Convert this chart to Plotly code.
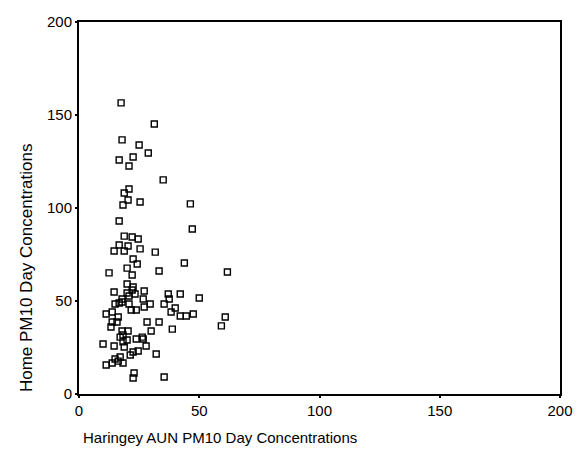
import plotly.graph_objects as go

haringey = [17.5, 31.3, 17.9, 25.0, 28.8, 16.7, 22.5, 20.8, 35.0, 20.8,
            18.8, 20.4, 18.3, 25.4, 46.3, 16.7, 47.1, 18.8, 22.1, 24.6,
            16.7, 20.4, 14.6, 18.8, 25.4, 31.7, 22.5, 24.2, 43.8, 12.5,
            20.0, 22.1, 33.3, 61.7, 20.0, 22.5, 22.1, 23.3, 14.6, 20.0,
            20.8, 17.9, 27.1, 37.1, 37.5, 42.1, 50.0, 26.7, 15.0, 16.7,
            17.9, 20.8, 21.7, 23.8, 29.6, 27.1, 35.4, 40.0, 38.3, 42.1,
            44.6, 47.5, 11.3, 13.8, 16.3, 13.8, 13.3, 15.8, 28.3, 33.3,
            30.0, 38.8, 17.9, 20.4, 18.3, 17.1, 20.0, 18.3, 23.8, 26.3,
            26.7, 10.0, 14.6, 27.9, 18.8, 22.5, 24.6, 32.1, 21.3, 11.3,
            13.8, 15.0, 17.1, 16.3, 18.3, 22.9, 22.5, 35.4, 59.2, 60.8]
home = [156.5, 145.2, 136.6, 133.9, 129.6, 125.8, 127.4, 122.6, 115.1, 110.2,
        108.1, 104.3, 101.6, 103.2, 102.2, 93.0, 88.7, 84.9, 84.4, 83.3,
        80.1, 79.6, 76.9, 76.9, 78.0, 76.3, 72.6, 69.9, 70.4, 65.1,
        67.7, 64.0, 66.1, 65.6, 59.1, 57.5, 55.9, 53.8, 54.8, 54.3,
        52.7, 51.1, 55.4, 53.8, 51.1, 53.8, 51.6, 51.1, 48.4, 48.9,
        49.5, 48.4, 45.2, 45.2, 48.4, 46.8, 48.4, 46.2, 44.1, 41.9,
        41.9, 43.0, 43.0, 44.1, 41.4, 38.7, 36.0, 38.7, 38.7, 38.7,
        33.9, 34.9, 33.9, 33.9, 31.7, 30.6, 29.0, 28.0, 29.6, 30.6,
        29.6, 26.9, 25.8, 25.8, 25.3, 22.6, 23.1, 21.5, 21.0, 15.6,
        16.7, 18.8, 19.9, 17.7, 16.7, 11.3, 8.6, 9.1, 36.6, 41.4]

tick_vals = [0, 50, 100, 150, 200]
x_title = "Haringey AUN PM10 Day Concentrations"
y_title = "Home PM10 Day Concentrations"

fig = go.Figure(go.Scatter(
    x=haringey, y=home, mode="markers",
    marker=dict(symbol="square-open", size=6, color="black",
                line=dict(width=1.4, color="black")),
    showlegend=False,
))

axis_common = dict(
    range=[0, 200], tickvals=tick_vals, showgrid=False, zeroline=False,
    showline=True, linecolor="black", linewidth=2, mirror=True,
    ticks="outside", ticklen=2, tickwidth=2, tickcolor="black",
    tickfont=dict(family="Liberation Sans, Arial", size=15, color="black"),
)

fig.update_layout(
    width=585, height=461,
    margin=dict(l=79, r=25, t=22, b=67),
    plot_bgcolor="white", paper_bgcolor="white",
    xaxis=dict(**axis_common),
    yaxis=dict(**axis_common),
    annotations=[
        dict(text=x_title, xref="paper", yref="paper", x=0.0, y=-0.116,
             xanchor="left", yanchor="middle", showarrow=False, xshift=2,
             font=dict(family="Liberation Sans, Arial", size=15, color="black")),
        dict(text=y_title, xref="paper", yref="paper", x=-0.109, y=0.34,
             xanchor="center", yanchor="middle", textangle=-90, showarrow=False,
             font=dict(family="Liberation Sans, Arial", size=17, color="black")),
    ],
)

fig.write_html("out.html")
